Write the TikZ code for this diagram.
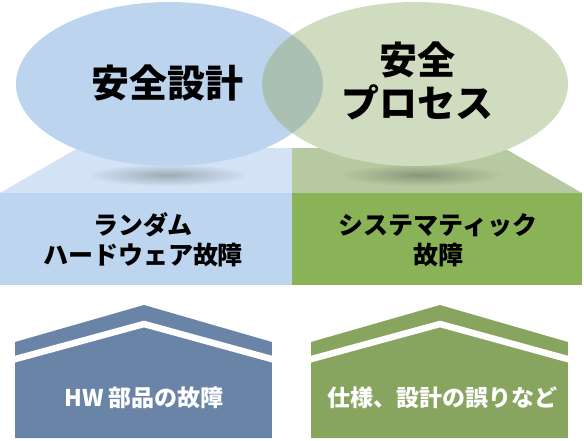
\documentclass[tikz,border=0pt]{standalone}
\usepackage{fontspec}
\setmainfont{Noto Sans CJK JP}
\usetikzlibrary{fadings}
\definecolor{designblue}{RGB}{189,212,238}
\definecolor{processgreen}{RGB}{208,220,192}
\definecolor{overlapgreen}{RGB}{170,192,178}
\definecolor{floorblue}{RGB}{211,227,245}
\definecolor{floorgreen}{RGB}{183,201,160}
\definecolor{randomblue}{RGB}{189,213,238}
\definecolor{sysgreen}{RGB}{138,179,87}
\definecolor{hwblue}{RGB}{106,132,168}
\definecolor{specgreen}{RGB}{136,165,96}
\tikzfading[name=shadowfade, inner color=transparent!0, outer color=transparent!100]

\begin{document}
\begin{tikzpicture}[x=1pt, y=-1pt,
    bigtext/.style={font=\fontsize{38}{43}\selectfont\bfseries, align=center},
    blocktext/.style={font=\fontsize{25}{30}\selectfont\bfseries, align=center},
    housetext/.style={font=\fontsize{23}{26}\selectfont\bfseries, text=white}]
        \useasboundingbox (0,0) rectangle (584,440);
        \coordinate (leftc) at (169.5,84);
        \coordinate (rightc) at (415,84);

        % floor
        \fill[floorblue] (0,193) -- (78,148) -- (292,148) -- (292,193) -- cycle;
        \fill[floorgreen] (292,148) -- (504,148) -- (582,193) -- (292,193) -- cycle;
        \fill[randomblue] (0,193) rectangle (292,285);
        \fill[sysgreen] (292,193) rectangle (582,285);

        % shadows
        \fill[black, opacity=.25, path fading=shadowfade] (167,175) ellipse [x radius=80, y radius=11];
        \fill[black, opacity=.25, path fading=shadowfade] (421,175) ellipse [x radius=80, y radius=11];

        % ellipses
        \fill[designblue] (leftc) ellipse [x radius=153.5, y radius=82];
        \fill[processgreen] (rightc) ellipse [x radius=153, y radius=82];
        \begin{scope}
            \clip (leftc) ellipse [x radius=153.5, y radius=82];
            \fill[overlapgreen] (rightc) ellipse [x radius=153, y radius=82];
        \end{scope}

        \node[bigtext] (safedesign) at (167,83) {安全設計};
        \node[bigtext] (safeprocess) at (417,81) {安全\\プロセス};
        \node[blocktext] (randomtxt) at (143,240) {ランダム\\ハードウェア故障};
        \node[blocktext] (systxt) at (438,240) {システマティック\\故障};

        % houses
        \foreach \hx/\hc in {15/hwblue, 311/specgreen} {
            \begin{scope}
                \clip (\hx,342) -- ++(129,-37) -- ++(128,37) -- ++(0,96) -- ++(-257,0) -- cycle;
                \fill[\hc] (\hx,342) -- ++(129,-37) -- ++(128,37) -- ++(0,96) -- ++(-257,0) -- cycle;
                \draw[white, line width=6.5, line join=miter] (\hx-5,360.5) -- (\hx+129,324) -- (\hx+262,360.5);
            \end{scope}
        }
        \node[housetext] (hwtxt) at (144,398) {HW 部品の故障};
        \node[housetext] (spectxt) at (442,398) {仕様、設計の誤りなど};
\end{tikzpicture}
\end{document}
